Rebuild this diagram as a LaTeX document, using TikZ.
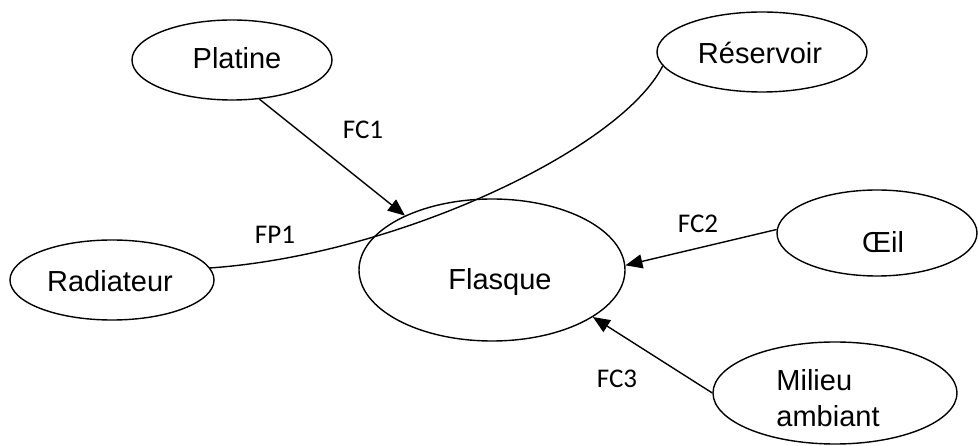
\documentclass[tikz,border=0pt]{standalone}
\usepackage{fontspec}
\setmainfont{Liberation Sans}
\newfontfamily\lblfont{Carlito}
\usetikzlibrary{shapes.geometric,arrows.meta}
\tikzset{
  ent/.style={ellipse, draw, line width=1.4pt, inner sep=0pt},
  nm/.style={font=\fontsize{29}{36}\selectfont, inner sep=0pt},
  lbl/.style={font=\lblfont\fontsize{27}{32}\selectfont, inner sep=0pt},
  con/.style={line width=1.4pt},
  arr/.style={con, -{Triangle[length=17pt,width=14pt]}}
}
\begin{document}
\begin{tikzpicture}[x=1pt,y=-1pt]
\useasboundingbox (0,0) rectangle (978,446);
% ellipses
\node[ent, minimum width=200pt, minimum height=80pt] (platine) at (232,60) {};
\node[ent, minimum width=210pt, minimum height=80pt] (reservoir) at (762,52) {};
\node[ent, minimum width=204pt, minimum height=80pt] (radiateur) at (112,280) {};
\node[ent, minimum width=266pt, minimum height=142pt] (flasque) at (492,270) {};
\node[ent, minimum width=200pt, minimum height=86pt] (oeil) at (877,233) {};
\node[ent, minimum width=244pt, minimum height=102pt] (milieu) at (835,393) {};
% texts
\node[nm] (tplatine) at (237,58) {Platine};
\node[nm] (treservoir) at (760,53) {Réservoir};
\node[nm] (tradiateur) at (110,281) {Radiateur};
\node[nm] (tflasque) at (500,282) {Flasque};
\node[nm] (toeil) at (883,242) {Œil};
\node[nm, align=left] (tmilieu) at (828,398) {Milieu\\ambiant};
% connectors
\draw[arr] (platine.-55) -- (flasque.148);
\draw[arr] (oeil.178) -- (flasque.2);
\draw[arr] (milieu.180) -- (flasque.-25);
\draw[con] (radiateur.7) .. controls +(187,-13) and +(-42,83) .. (reservoir.-172);
% labels
\node[lbl] (lfc1) at (363,130) {FC1};
\node[lbl] (lfc2) at (698,224) {FC2};
\node[lbl] (lfc3) at (617,379) {FC3};
\node[lbl] (lfp1) at (275,235) {FP1};
\end{tikzpicture}
\end{document}
